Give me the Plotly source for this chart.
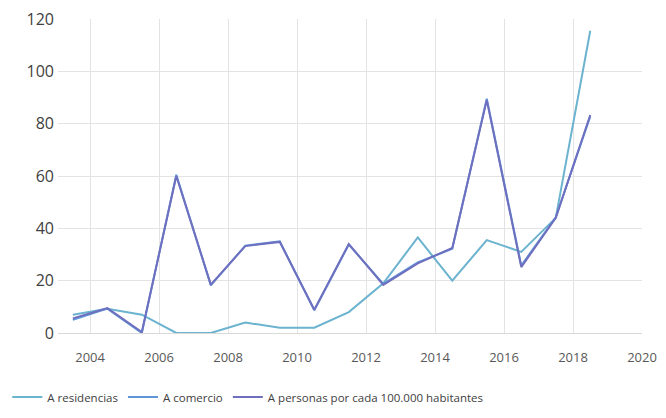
import plotly.graph_objects as go

years = [2003.5, 2004.5, 2005.5, 2006.5, 2007.5, 2008.5, 2009.5, 2010.5,
         2011.5, 2012.5, 2013.5, 2014.5, 2015.5, 2016.5, 2017.5, 2018.5]
residencias = [7, 9.3, 7, 0, 0, 4, 2, 2, 8, 19, 36.5, 20, 35.5, 31, 44, 115.5]
comercio = [5, 9.3, 0, 60.5, 18.2, 33.4, 35, 8.7, 33.8, 18.8, 27, 32.2, 89.5, 25.8, 44.2, 82.8]
personas = [5.6, 9.5, 0.4, 60, 18.5, 33.2, 34.8, 8.9, 34, 18.4, 26.6, 32.5, 89, 25.2, 44, 83.3]
names = ["A residencias", "A comercio", "A personas por cada 100.000 habitantes"]
colors = ["#6bb3cf", "#5f96d8", "#6f6fbf"]
x_ticks = [2004, 2006, 2008, 2010, 2012, 2014, 2016, 2018, 2020]

fig = go.Figure()
for name, vals, c in zip(names, [residencias, comercio, personas], colors):
    fig.add_trace(go.Scatter(x=years, y=vals, mode="lines", name=name,
                             line=dict(color=c, width=2)))

# the page body has an 8px margin; the figure is sized to fit without scrollbars
fig.update_layout(
    width=650, height=402,
    margin=dict(l=50, r=16, t=11, b=77, autoexpand=False),
    paper_bgcolor="white", plot_bgcolor="white",
    font=dict(family="Open Sans, Noto Sans, sans-serif", color="#404040"),
    showlegend=True,
    legend=dict(orientation="h", x=-0.0868, xanchor="left", y=-0.204, yanchor="middle",
                font=dict(size=11.5, color="#404040"), itemwidth=30,
                tracegroupgap=0),
)
fig.update_xaxes(range=[2003.07, 2020], tickvals=x_ticks, showgrid=True,
                 gridcolor="#e3e3e3", gridwidth=1, zeroline=False, showline=False,
                 tickfont=dict(size=13, color="#595959"), ticklabelstandoff=15,
                 ticklabeloverflow="allow")
fig.update_yaxes(range=[0, 120], dtick=20, showgrid=True, gridcolor="#e3e3e3",
                 gridwidth=1, zeroline=True, zerolinecolor="#d9d9d9", zerolinewidth=1,
                 showline=False, tickfont=dict(size=16, color="#404040"),
                 ticklabelstandoff=3, ticklabeloverflow="allow")

fig.write_html("out.html")
